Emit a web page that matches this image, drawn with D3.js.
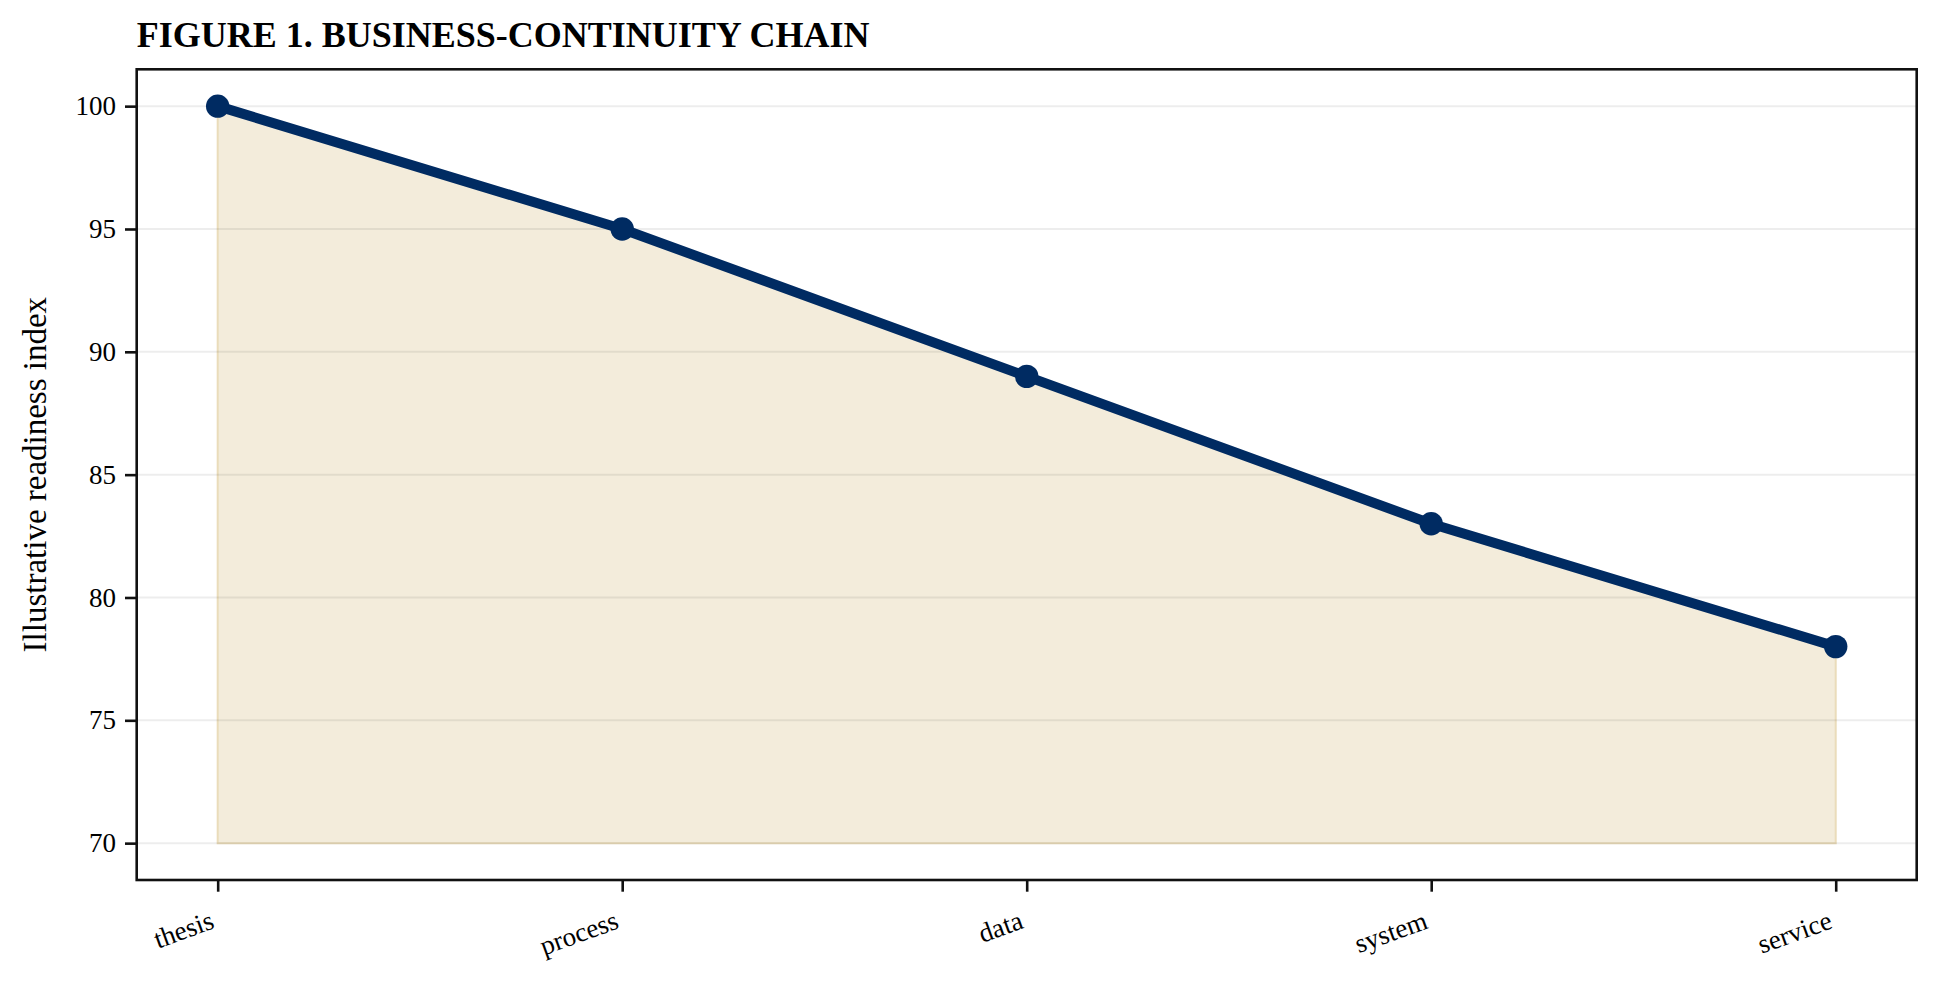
<!DOCTYPE html>
<html>
<head>
<meta charset="utf-8">
<script src="https://cdn.jsdelivr.net/npm/d3@7"></script>
<style>
  body { margin: 0; background: #fff; }
  svg { display: block; }
</style>
</head>
<body>
<div id="chart"></div>
<script>
// chart values
const stages = ["thesis", "process", "data", "system", "service"];
const readiness = [100, 95, 89, 83, 78];
const yTicks = [70, 75, 80, 85, 90, 95, 100];
const baseline = 70;

const width = 1939;
const height = 983;
const margin = {top: 69.3, right: 22.3, bottom: 103, left: 136.7};
const innerW = width - margin.left - margin.right;
const innerH = height - margin.top - margin.bottom;

const data = stages.map((s, i) => ({stage: s, value: readiness[i]}));

const svg = d3.select("#chart")
  .append("svg")
    .attr("width", width)
    .attr("height", height)
    .attr("font-family", "'Liberation Serif', 'Times New Roman', serif");

const g = svg.append("g")
    .attr("transform", `translate(${margin.left}, ${margin.top})`);

// point scale with matplotlib-like 5% margins
const x = d3.scalePoint()
    .domain(stages)
    .range([innerW * 0.0455, innerW * (1 - 0.0455)]);

const y = d3.scaleLinear()
    .domain([68.5, 101.5])
    .range([innerH, 0]);

// shaded area under the line
const area = d3.area()
    .x(d => x(d.stage))
    .y0(y(baseline))
    .y1(d => y(d.value));

g.append("path")
    .datum(data)
    .attr("d", area)
    .attr("fill", "#f3ecdb")
    .attr("stroke", "#eadcba")
    .attr("stroke-width", 2);

// horizontal grid
g.append("g")
  .selectAll("line")
  .data(yTicks)
  .join("line")
    .attr("x1", 0)
    .attr("x2", innerW)
    .attr("y1", d => y(d))
    .attr("y2", d => y(d))
    .attr("stroke", "#000")
    .attr("stroke-opacity", 0.07)
    .attr("stroke-width", 2);

// line
const line = d3.line()
    .x(d => x(d.stage))
    .y(d => y(d.value));

g.append("path")
    .datum(data)
    .attr("d", line)
    .attr("fill", "none")
    .attr("stroke", "#002b62")
    .attr("stroke-width", 10)
    .attr("stroke-linejoin", "round");

g.append("g")
  .selectAll("circle")
  .data(data)
  .join("circle")
    .attr("cx", d => x(d.stage))
    .attr("cy", d => y(d.value))
    .attr("r", 11.7)
    .attr("fill", "#002b62");

// axes
const yAxis = g.append("g")
    .call(d3.axisLeft(y).tickValues(yTicks).tickSize(11.7).tickPadding(9));

const xAxis = g.append("g")
    .attr("transform", `translate(0,${innerH})`)
    .call(d3.axisBottom(x).tickSize(11.7).tickFormat(() => ""));

[xAxis, yAxis].forEach(a => {
  a.select(".domain").remove();
  a.selectAll(".tick line").attr("stroke", "#111").attr("stroke-width", 2.6);
});

yAxis.selectAll(".tick text")
    .attr("font-family", "'Liberation Serif', serif")
    .attr("font-size", 27)
    .attr("fill", "#000");

// rotated x labels, top-right of rotated box at the tick
g.append("g")
  .selectAll("text")
  .data(stages)
  .join("text")
    .attr("transform", d => `translate(${x(d) - 2},${innerH + 11.7 + 13 + 23}) rotate(-20)`)
    .attr("text-anchor", "end")
    .attr("font-size", 27)
    .attr("fill", "#000")
    .text(d => d);

// frame
g.append("rect")
    .attr("width", innerW)
    .attr("height", innerH)
    .attr("fill", "none")
    .attr("stroke", "#111")
    .attr("stroke-width", 2.6);

// y label
svg.append("text")
    .attr("transform", `translate(46, ${margin.top + innerH / 2}) rotate(-90)`)
    .attr("text-anchor", "middle")
    .attr("font-size", 33)
    .attr("fill", "#000")
    .text("Illustrative readiness index");

// title
svg.append("text")
    .attr("x", margin.left)
    .attr("y", 46.5)
    .attr("font-size", 36)
    .attr("font-weight", "bold")
    .attr("fill", "#000")
    .text("FIGURE 1. BUSINESS-CONTINUITY CHAIN");
</script>
</body>
</html>
